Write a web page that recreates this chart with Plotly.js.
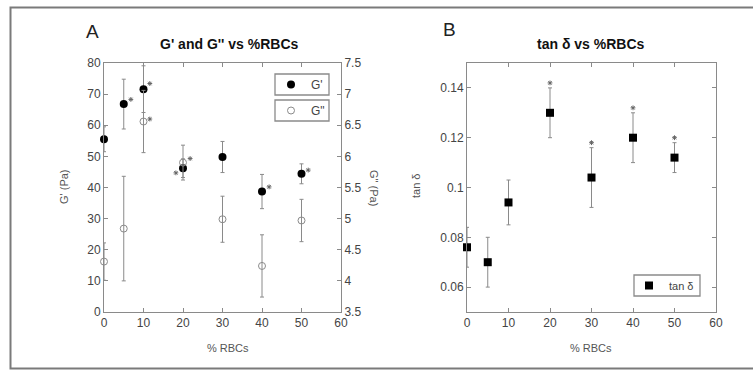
<!DOCTYPE html>
<html>
<head>
<meta charset="utf-8">
<script src="https://cdn.plot.ly/plotly-3.0.1.min.js"></script>
<style>html,body{margin:0;padding:0;background:#fff;}#chart{width:753px;height:370px;}</style>
</head>
<body>
<div id="chart"></div>
<script>
// ---- data ----
const rbc = [0, 5, 10, 20, 30, 40, 50];
const gPrime = [55.5, 66.8, 71.6, 46.2, 49.8, 38.7, 44.4];
const gPrimeErr = [4, 8, 7.5, 3, 5, 5.5, 3.2];
const gDouble = [4.31, 4.84, 6.56, 5.90, 4.99, 4.24, 4.97];
const gDoubleErr = [0.3, 0.84, 0.5, 0.28, 0.37, 0.5, 0.34];
const tanD = [0.076, 0.070, 0.094, 0.130, 0.104, 0.120, 0.112];
const tanDErr = [0.008, 0.010, 0.009, 0.010, 0.012, 0.010, 0.006];
const astAx = [6.8, 11.6, 11.6, 21.8, 18.2, 41.8, 51.7];
const astAy = [68.3, 73.4, 62.0, 49.3, 44.7, 40.2, 45.6];
const astBx = [20, 30, 40, 50];
const astBy = [0.142, 0.118, 0.132, 0.120];
const xTicks = [0, 10, 20, 30, 40, 50, 60];

const FONT = 'Liberation Sans, Arial, sans-serif';
const GREY = '#8a8a8a';
const TXT = '#444';

const errStyle = (arr) => ({type: 'data', array: arr, visible: true, color: GREY, thickness: 1, width: 2});

const traces = [
  {x: rbc, y: gDouble, yaxis: 'y2', xaxis: 'x', type: 'scatter', mode: 'markers', name: 'G"',
   legend: 'legend2', cliponaxis: false,
   marker: {symbol: 'circle-open', size: 7, color: GREY, line: {width: 1, color: GREY}},
   error_y: errStyle(gDoubleErr)},
  {x: rbc, y: gPrime, xaxis: 'x', yaxis: 'y', type: 'scatter', mode: 'markers', name: "G'",
   legend: 'legend', cliponaxis: false,
   marker: {symbol: 'circle', size: 8, color: '#000'},
   error_y: errStyle(gPrimeErr)},
  {x: astAx, y: astAy, xaxis: 'x', yaxis: 'y', type: 'scatter', mode: 'markers', showlegend: false,
   marker: {symbol: 'asterisk-open', size: 4, color: '#666', line: {width: 1, color: '#666'}}},
  {x: rbc, y: tanD, xaxis: 'x2', yaxis: 'y3', type: 'scatter', mode: 'markers', name: 'tan δ',
   legend: 'legend3', cliponaxis: false,
   marker: {symbol: 'square', size: 8, color: '#000'},
   error_y: errStyle(tanDErr)},
  {x: astBx, y: astBy, xaxis: 'x2', yaxis: 'y3', type: 'scatter', mode: 'markers', showlegend: false,
   marker: {symbol: 'asterisk-open', size: 4, color: '#666', line: {width: 1, color: '#666'}}}
];

const axBase = {
  showline: true, linecolor: GREY, linewidth: 1, ticks: 'inside', ticklen: 4, tickcolor: GREY,
  showgrid: false, zeroline: false, tickfont: {family: FONT, size: 12, color: TXT}, fixedrange: true
};

const H = 370, W = 753;
const px = (v) => v / W, py = (v) => (H - v) / H;

const legBase = {
  borderwidth: 0, bgcolor: 'rgba(0,0,0,0)', xanchor: 'left', yanchor: 'middle',
  font: {family: FONT, size: 12, color: TXT}, itemwidth: 30, tracegroupgap: 0
};

const ann = (text, x, y, size, color, angle) => ({
  text: text, xref: 'paper', yref: 'paper', x: px(x), y: py(y), xanchor: 'center', yanchor: 'middle',
  showarrow: false, textangle: angle || 0, font: {family: FONT, size: size, color: color}
});

const box = (x0, y0, x1, y1) => ({
  type: 'rect', xref: 'paper', yref: 'paper', x0: px(x0), x1: px(x1), y0: py(y1), y1: py(y0),
  line: {color: GREY, width: 1.3}, fillcolor: '#fff', layer: 'above'
});

const layout = {
  width: W, height: H, margin: {l: 0, r: 0, t: 0, b: 0},
  paper_bgcolor: '#fff', plot_bgcolor: '#fff', showlegend: true,
  font: {family: FONT, color: TXT},
  xaxis: Object.assign({}, axBase, {domain: [px(104), px(341)], range: [0, 60], tickvals: xTicks, mirror: 'ticks', anchor: 'y'}),
  yaxis: Object.assign({}, axBase, {domain: [py(312), py(63)], range: [0, 80], dtick: 10, tick0: 0, anchor: 'x'}),
  yaxis2: Object.assign({}, axBase, {domain: [py(312), py(63)], range: [3.5, 7.5], dtick: 0.5, tick0: 3.5, overlaying: 'y', side: 'right', anchor: 'x'}),
  xaxis2: Object.assign({}, axBase, {domain: [px(467), px(716)], range: [0, 60], tickvals: xTicks, mirror: 'ticks', anchor: 'y3'}),
  yaxis3: Object.assign({}, axBase, {domain: [py(312), py(63)], range: [0.05, 0.15], dtick: 0.02, tick0: 0.06, mirror: 'ticks', anchor: 'x2'}),
  legend: Object.assign({}, legBase, {x: px(271), y: py(84.5)}),
  legend2: Object.assign({}, legBase, {x: px(271), y: py(110.5)}),
  legend3: Object.assign({}, legBase, {x: px(629), y: py(285.5), font: {family: FONT, size: 11, color: TXT}}),
  shapes: [
    {type: 'rect', xref: 'paper', yref: 'paper', x0: px(10.5), x1: 1.02, y0: py(368.5), y1: py(7.5),
     line: {color: '#7a7a7a', width: 2}, fillcolor: 'rgba(0,0,0,0)', layer: 'below'},
    box(275, 74, 329, 95),
    box(275, 100, 329, 121),
    box(634, 275, 700, 296)
  ],
  annotations: [
    ann('A', 92, 31, 19, '#222'),
    ann('B', 449, 30, 19, '#222'),
    ann("<b>G' and G'' vs %RBCs</b>", 229, 44, 14, '#111'),
    ann('<b>tan δ vs %RBCs</b>', 591, 44, 14, '#111'),
    ann('% RBCs', 228, 348, 11, '#555'),
    ann('% RBCs', 591, 348, 11, '#555'),
    ann("G' (Pa)", 64, 186, 11, '#555', -90),
    ann('G" (Pa)', 374, 188, 11, '#555', 90),
    ann('tan δ', 416, 186, 11, '#555', -90)
  ]
};

Plotly.newPlot('chart', traces, layout, {displayModeBar: false, staticPlot: true});
</script>
</body>
</html>
